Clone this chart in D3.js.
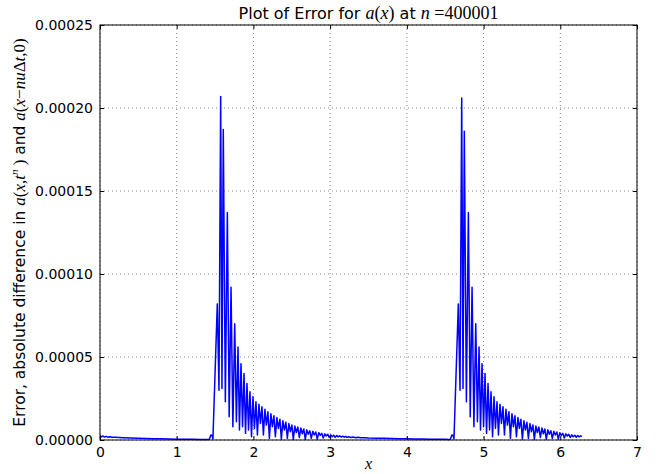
<!DOCTYPE html>
<html>
<head>
<meta charset="utf-8">
<script src="https://cdn.jsdelivr.net/npm/d3@7"></script>
<style>
  body { margin: 0; background: #fff; }
  svg { display: block; font-family: "DejaVu Sans", sans-serif; }
  .math { font-family: "Liberation Serif", serif; font-style: italic; }
  .num { font-family: "Liberation Serif", serif; font-style: normal; }
</style>
</head>
<body>
<svg width="659" height="474"></svg>
<script>
// tick values
var xTicks = [0, 1, 2, 3, 4, 5, 6, 7];
var yTicks = [0, 0.00005, 0.0001, 0.00015, 0.0002, 0.00025];

// error values, in units of 1e-6
// flat lead-in from x = 0 up to the first wave packet
var leadX   = [0.000, 0.020, 0.040, 0.060, 0.080, 0.100, 0.130, 0.160, 0.200, 0.300, 0.400, 0.500, 0.600, 0.700, 0.800, 0.900, 1.000, 1.100, 1.200, 1.300, 1.400, 1.425, 1.445, 1.460, 1.472];
var leadErr = [2.6, 1.9, 2.4, 1.8, 2.2, 1.7, 2.0, 1.6, 1.7, 1.4, 1.2, 1.0, 0.9, 0.8, 0.7, 0.6, 0.5, 0.45, 0.4, 0.35, 0.3, 0.5, 3.0, 2.8, 0.6];

// first wave packet (peak, trough, peak, ...)
var wave1X = [1.529, 1.551, 1.573, 1.590, 1.607, 1.634, 1.660, 1.684, 1.708, 1.732, 1.756, 1.778, 1.799, 1.818, 1.838, 1.858, 1.877, 1.897, 1.916, 1.936,
  1.955, 1.975, 1.994, 2.013, 2.033, 2.052, 2.072, 2.091, 2.111, 2.130, 2.150, 2.169, 2.189, 2.208, 2.228, 2.247, 2.267, 2.286, 2.306, 2.325,
  2.345, 2.364, 2.384, 2.403, 2.423, 2.442, 2.462, 2.481, 2.501, 2.520, 2.540, 2.559, 2.579, 2.598, 2.618, 2.637, 2.657, 2.676, 2.696, 2.715,
  2.735, 2.754, 2.774, 2.793, 2.813, 2.832, 2.852, 2.871, 2.891, 2.910, 2.930, 2.949, 2.969, 2.988, 3.008, 3.027, 3.047, 3.066, 3.086, 3.105,
  3.125, 3.144, 3.164, 3.183, 3.203, 3.222, 3.242, 3.270, 3.300, 3.330, 3.360, 3.400, 3.450, 3.500];
var wave1Err = [82, 30, 207, 31, 187, 23, 137, 14, 92, 8, 70, 11, 56, 6, 46, 8, 40, 4, 34, 6,
  29, 2, 26, 7, 23, 3, 21.5, 10, 20, 3, 18.5, 9, 17, 1, 15.8, 8, 14.6, 2, 13.5, 7,
  12.5, 0.5, 11.6, 6, 10.7, 1, 9.9, 5, 9.1, 0.3, 8.4, 4.5, 7.8, 1.5, 7.2, 3.8, 6.6, 0.4, 6.1, 3.5,
  5.6, 1, 5.2, 3, 4.8, 0.5, 4.4, 2.8, 4.0, 1.2, 3.7, 2.4, 3.4, 1.5, 3.1, 2.0, 2.9, 1.6, 2.7, 1.9,
  2.5, 1.8, 2.3, 1.7, 2.1, 1.6, 2.0, 1.5, 1.8, 1.4, 1.6, 1.3, 1.4, 1.2];

// quiet stretch between the two packets
var gapX   = [3.600, 3.700, 3.800, 3.900, 4.000, 4.100, 4.200, 4.300, 4.400, 4.500, 4.545, 4.567, 4.587, 4.602, 4.614];
var gapErr = [1.1, 1.0, 0.9, 0.8, 0.7, 0.65, 0.6, 0.5, 0.45, 0.4, 0.3, 0.5, 3.0, 2.8, 0.6];

// second wave packet, running up to x = 2*pi
var wave2X = [4.671, 4.693, 4.715, 4.732, 4.749, 4.776, 4.802, 4.826, 4.850, 4.874, 4.898, 4.920, 4.941, 4.960, 4.980, 5.000, 5.019, 5.039, 5.058, 5.078,
  5.097, 5.117, 5.136, 5.155, 5.175, 5.194, 5.214, 5.233, 5.253, 5.272, 5.292, 5.311, 5.331, 5.350, 5.370, 5.389, 5.409, 5.428, 5.448, 5.467,
  5.487, 5.506, 5.526, 5.545, 5.565, 5.584, 5.604, 5.623, 5.643, 5.662, 5.682, 5.701, 5.721, 5.740, 5.760, 5.779, 5.799, 5.818, 5.838, 5.857,
  5.877, 5.896, 5.916, 5.935, 5.955, 5.974, 5.994, 6.013, 6.033, 6.052, 6.072, 6.091, 6.111, 6.130, 6.150, 6.169, 6.189, 6.208, 6.228, 6.247,
  6.267, 6.283];
var wave2Err = [82, 30, 206, 31, 186, 23, 137, 14, 92, 8, 70, 11, 56, 6, 46, 8, 40, 4, 34, 6,
  29, 2, 26, 7, 23, 3, 21.5, 10, 20, 3, 18.5, 9, 17, 1, 15.8, 8, 14.6, 2, 13.5, 7,
  12.5, 0.5, 11.6, 6, 10.7, 1, 9.9, 5, 9.1, 0.3, 8.4, 4.5, 7.8, 1.5, 7.2, 3.8, 6.6, 0.4, 6.1, 3.5,
  5.6, 1, 5.2, 3, 4.8, 0.5, 4.4, 2.8, 4.0, 1.2, 3.7, 2.4, 3.4, 1.5, 3.1, 2.0, 2.9, 1.6, 2.7, 1.9,
  2.5, 2.2];

// plot box (window.top is read-only, so no bare "top")
var plotLeft = 100, plotRight = 637, plotTop = 25, plotBottom = 440;

var svg = d3.select('svg');

var xScale = d3.scaleLinear().domain([0, 7]).range([plotLeft, plotRight]);
var yScale = d3.scaleLinear().domain([0, 0.00025]).range([plotBottom, plotTop]);

// dotted grid
svg.append('g').selectAll('line').data(xTicks).enter().append('line')
    .attr('x1', function(d){ return xScale(d); }).attr('x2', function(d){ return xScale(d); })
    .attr('y1', plotTop).attr('y2', plotBottom)
    .attr('stroke', '#888').attr('stroke-width', 1).attr('stroke-dasharray', '1,3');
svg.append('g').selectAll('line').data(yTicks).enter().append('line')
    .attr('y1', function(d){ return yScale(d); }).attr('y2', function(d){ return yScale(d); })
    .attr('x1', plotLeft).attr('x2', plotRight)
    .attr('stroke', '#888').attr('stroke-width', 1).attr('stroke-dasharray', '1,3');

// the error curve
var points = [];
[[leadX, leadErr], [wave1X, wave1Err], [gapX, gapErr], [wave2X, wave2Err]].forEach(function(seg){
    seg[0].forEach(function(x, i){ points.push([x, seg[1][i] * 1e-6]); });
});

var line = d3.line()
    .x(function(d){ return xScale(d[0]); })
    .y(function(d){ return yScale(d[1]); });

svg.append('path')
    .datum(points)
    .attr('d', line)
    .attr('fill', 'none')
    .attr('stroke', '#0000ff')
    .attr('stroke-width', 1.5)
    .attr('stroke-linejoin', 'round');

// axes with inward ticks on all four sides
var xAxis = d3.axisBottom(xScale).tickValues(xTicks).tickFormat(d3.format('d')).tickSize(-4).tickPadding(7);
var yAxis = d3.axisLeft(yScale).tickValues(yTicks).tickFormat(d3.format('.5f')).tickSize(-4).tickPadding(7);

svg.append('g').attr('transform', 'translate(0,' + plotBottom + ')').call(xAxis);
svg.append('g').attr('transform', 'translate(' + plotLeft + ',0)').call(yAxis);
svg.append('g').attr('transform', 'translate(0,' + plotTop + ')')
    .call(d3.axisTop(xScale).tickValues(xTicks).tickFormat('').tickSize(-4));
svg.append('g').attr('transform', 'translate(' + plotRight + ',0)')
    .call(d3.axisRight(yScale).tickValues(yTicks).tickFormat('').tickSize(-4));

svg.selectAll('.domain').remove();
svg.selectAll('.tick line').attr('stroke', '#000');
svg.selectAll('.tick text')
    .attr('fill', '#000')
    .style('font-family', '"DejaVu Sans", sans-serif')
    .style('font-size', '14px');

svg.append('rect')
    .attr('x', plotLeft).attr('y', plotTop)
    .attr('width', plotRight - plotLeft).attr('height', plotBottom - plotTop)
    .attr('fill', 'none').attr('stroke', '#000').attr('stroke-width', 1);

// title
var title = svg.append('text')
    .attr('x', (plotLeft + plotRight) / 2).attr('y', 19)
    .attr('text-anchor', 'middle')
    .style('font-size', '16px');
title.append('tspan').text('Plot of Error for ');
title.append('tspan').attr('class', 'math').style('font-size', '18px').text('a');
title.append('tspan').attr('class', 'num').style('font-size', '18px').text('(');
title.append('tspan').attr('class', 'math').style('font-size', '18px').text('x');
title.append('tspan').attr('class', 'num').style('font-size', '18px').text(')');
title.append('tspan').text(' at ');
title.append('tspan').attr('class', 'math').style('font-size', '18px').text('n');
title.append('tspan').attr('class', 'num').style('font-size', '18px').text(' =400001');

// x label
svg.append('text')
    .attr('class', 'math')
    .attr('x', (plotLeft + plotRight) / 2).attr('y', 469)
    .attr('text-anchor', 'middle')
    .style('font-size', '16px')
    .text('x');

// y label
var ylab = svg.append('text')
    .attr('transform', 'translate(25,' + ((plotTop + plotBottom) / 2) + ') rotate(-90)')
    .attr('text-anchor', 'middle')
    .style('font-size', '15.5px');
ylab.append('tspan').text('Error, absolute difference in ');
ylab.append('tspan').attr('class', 'math').style('font-size', '17px').text('a');
ylab.append('tspan').attr('class', 'num').style('font-size', '17px').text('(');
ylab.append('tspan').attr('class', 'math').style('font-size', '17px').text('x,t');
ylab.append('tspan').attr('class', 'math').style('font-size', '11px').attr('dy', -7).text('n');
ylab.append('tspan').attr('class', 'num').style('font-size', '17px').attr('dy', 7).text(' )');
ylab.append('tspan').text(' and ');
ylab.append('tspan').attr('class', 'math').style('font-size', '17px').text('a');
ylab.append('tspan').attr('class', 'num').style('font-size', '17px').text('(');
ylab.append('tspan').attr('class', 'math').style('font-size', '17px').text('x');
ylab.append('tspan').attr('class', 'num').style('font-size', '17px').text('\u2212');
ylab.append('tspan').attr('class', 'math').style('font-size', '17px').text('nu');
ylab.append('tspan').attr('class', 'num').style('font-size', '17px').text('\u0394');
ylab.append('tspan').attr('class', 'math').style('font-size', '17px').text('t');
ylab.append('tspan').attr('class', 'num').style('font-size', '17px').text(',0)');
</script>
</body>
</html>
